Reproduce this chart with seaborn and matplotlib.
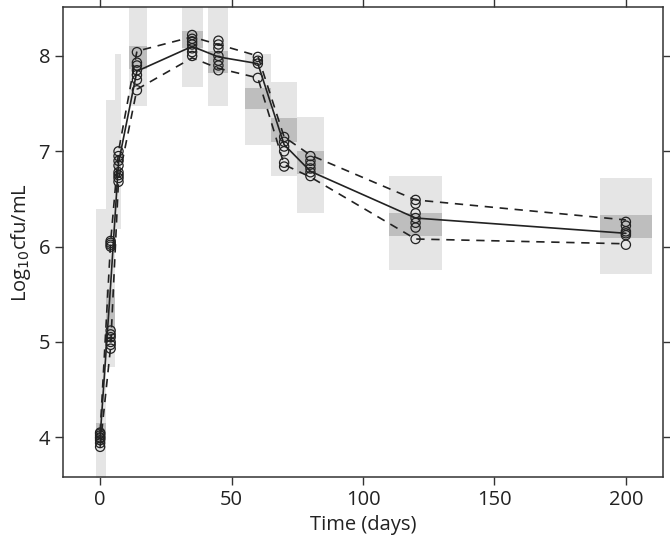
import numpy as np
import pandas as pd
import matplotlib
matplotlib.use("Agg")
import matplotlib.pyplot as plt
import seaborn as sns

# Observed data (time in days, log10 cfu/mL)
obs_time = ([0] * 8 + [4] * 4 + [4] * 6 + [7] * 8 + [14] * 7 + [35] * 7 + [45] * 7
            + [60] * 4 + [70] * 6 + [80] * 6 + [120] * 7 + [200] * 6)
obs_value = ([3.90, 3.94, 3.97, 3.99, 4.00, 4.02, 4.04, 4.05]
             + [6.00, 6.02, 6.04, 6.06]
             + [4.93, 4.97, 5.00, 5.05, 5.08, 5.12]
             + [6.68, 6.72, 6.75, 6.78, 6.85, 6.90, 6.95, 7.00]
             + [7.64, 7.75, 7.80, 7.85, 7.90, 7.93, 8.04]
             + [8.00, 8.04, 8.08, 8.12, 8.15, 8.18, 8.22]
             + [7.85, 7.90, 7.95, 8.00, 8.08, 8.12, 8.16]
             + [7.77, 7.92, 7.95, 7.99]
             + [6.84, 6.88, 7.00, 7.05, 7.10, 7.15]
             + [6.74, 6.78, 6.82, 6.86, 6.90, 6.95]
             + [6.08, 6.20, 6.25, 6.30, 6.35, 6.45, 6.49]
             + [6.02, 6.12, 6.14, 6.16, 6.22, 6.26])

# Observed percentiles
pct_time = [0, 4, 7, 14, 35, 45, 60, 70, 80, 120, 200]
pct_50 = [4.00, 5.60, 6.88, 7.84, 8.10, 7.99, 7.92, 7.07, 6.79, 6.30, 6.14]
pct_95 = [4.05, 6.05, 7.00, 8.05, 8.20, 8.12, 8.00, 7.15, 6.96, 6.49, 6.28]
pct_05 = [3.90, 4.95, 6.70, 7.65, 7.98, 7.87, 7.77, 6.86, 6.73, 6.08, 6.03]

# Simulated confidence areas per time bin
bin_lo = [-1.6, 2.1, 5.7, 11, 31, 41.2, 55, 65, 75, 110, 190]
bin_hi = [2.1, 5.7, 8.0, 18, 39, 48.8, 65, 75, 85, 130, 210]
pi_lo = [3.40, 4.74, 6.18, 7.48, 7.67, 7.48, 7.07, 6.74, 6.35, 5.75, 5.71]
pi_hi = [6.40, 7.54, 8.02, 8.60, 8.60, 8.60, 8.02, 7.73, 7.36, 6.74, 6.72]
med_lo = [3.97, 5.02, 6.72, 7.86, 8.08, 7.82, 7.44, 7.10, 6.76, 6.11, 6.09]
med_hi = [4.15, 5.55, 6.95, 8.10, 8.26, 8.05, 7.66, 7.35, 7.00, 6.35, 6.33]

sns.set_style("ticks")
plt.rcParams['font.family'] = ['Open Sans', 'DejaVu Sans']

fig = plt.figure(figsize=(6.7, 5.47), dpi=100)
ax = fig.add_axes([0.0945, 0.1285, 0.8946, 0.8581])

# Prediction interval boxes and median CI boxes
for lo, hi, a, b in zip(bin_lo, bin_hi, pi_lo, pi_hi):
    ax.fill_between([lo, hi], a, b, color='#e5e5e5', linewidth=0, zorder=1)
for lo, hi, a, b in zip(bin_lo, bin_hi, med_lo, med_hi):
    ax.fill_between([lo, hi], a, b, color='#bebebe', linewidth=0, zorder=2)

lines = pd.DataFrame({'time': pct_time, 'p50': pct_50, 'p95': pct_95, 'p05': pct_05})
sns.lineplot(data=lines, x='time', y='p50', color='#222222', linewidth=1.2, ax=ax, zorder=3)
sns.lineplot(data=lines, x='time', y='p95', color='#222222', linewidth=1.2, ax=ax, zorder=3,
             dashes=False, linestyle=(0, (5, 4)))
sns.lineplot(data=lines, x='time', y='p05', color='#222222', linewidth=1.2, ax=ax, zorder=3,
             dashes=False, linestyle=(0, (5, 4)))

obs = pd.DataFrame({'time': obs_time, 'value': obs_value})
sns.scatterplot(data=obs, x='time', y='value', s=44, facecolor='none', edgecolor='#222222',
                linewidth=0.9, ax=ax, zorder=4)

ax.set_xlim(-14, 214)
ax.set_ylim(3.587, 8.51)
ax.set_xticks([0, 50, 100, 150, 200])
ax.set_yticks([4, 5, 6, 7, 8])
ax.tick_params(axis='both', which='both', direction='out', length=6, width=1, color='#333333',
               labelsize=14.5, top=True, right=True, labeltop=False, labelright=False,
               labelcolor='#222222')
for s in ax.spines.values():
    s.set_color('#333333')
    s.set_linewidth(1.1)
ax.set_xlabel('Time (days)', fontsize=14.5, color='#222222')
ax.set_ylabel('Log$_{10}$cfu/mL', fontsize=14.5, color='#222222')

plt.savefig('out.png', dpi=100)
